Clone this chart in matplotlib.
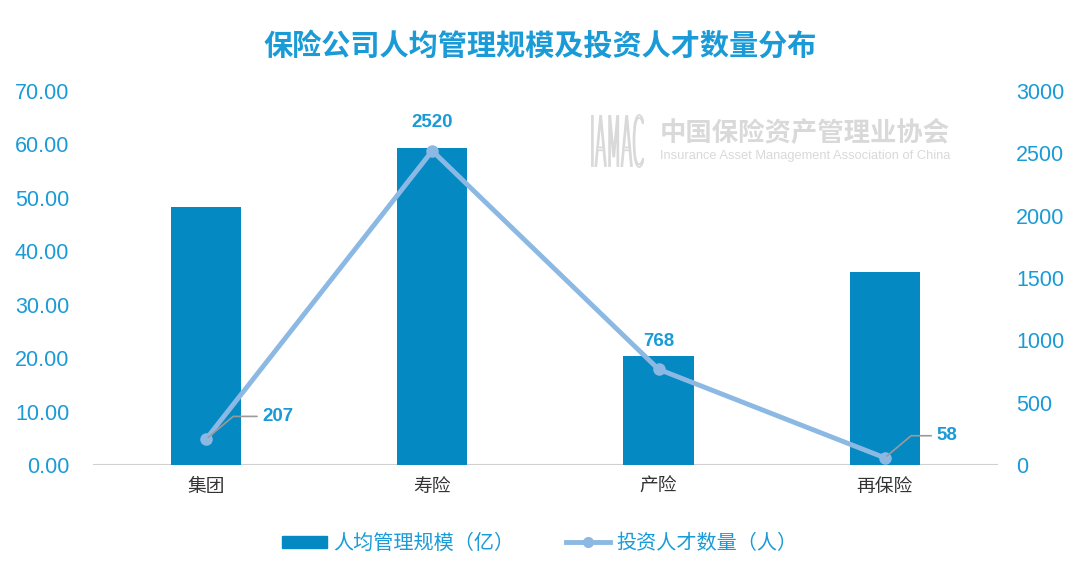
import matplotlib
matplotlib.use("Agg")
from matplotlib import pyplot as plt
from matplotlib.lines import Line2D
from matplotlib.patches import Patch, PathPatch
from matplotlib.textpath import TextPath
from matplotlib.font_manager import FontProperties
from matplotlib.transforms import Affine2D

plt.rcParams["font.family"] = ["Liberation Sans", "Noto Sans CJK SC", "DejaVu Sans"]

categories = ["集团", "寿险", "产险", "再保险"]
aum_per_person = [48.2, 59.3, 20.4, 36.2]   # 人均管理规模（亿）
talent_count = [207, 2520, 768, 58]         # 投资人才数量（人）
left_ticks = [0, 10, 20, 30, 40, 50, 60, 70]
right_ticks = [0, 500, 1000, 1500, 2000, 2500, 3000]

BLUE_TXT = "#1a9bd7"
BAR_C = "#0589c3"
LINE_C = "#8cb9e3"

fig = plt.figure(figsize=(10.8, 5.72), dpi=100)
ax = fig.add_axes([0.086, 0.187, 0.838, 0.654])
ax2 = ax.twinx()

x = list(range(len(categories)))
ax.bar(x, aum_per_person, width=0.31, color=BAR_C, zorder=2)
ax.set_xlim(-0.5, 3.5)
ax.set_ylim(0, 70)
ax.set_yticks(left_ticks)
ax.set_yticklabels([f"{t:.2f}" for t in left_ticks])
ax.set_xticks(x)
ax.set_xticklabels(categories, fontsize=13.5, color="#333333")

ax2.plot(x, talent_count, color=LINE_C, lw=3.5, marker="o", ms=8, zorder=3)
ax2.set_ylim(0, 3000)
ax2.set_yticks(right_ticks)

for a in (ax, ax2):
    for s in a.spines.values():
        s.set_visible(False)
    a.tick_params(length=0)
ax.tick_params(axis="y", labelsize=15.5, labelcolor=BLUE_TXT, pad=17)
ax2.tick_params(axis="y", labelsize=15.5, labelcolor=BLUE_TXT, pad=13)
ax.tick_params(axis="x", pad=10)
ax.axhline(0, color="#d0d0d0", lw=1.5, zorder=1)

# data labels
lbl = dict(color=BLUE_TXT, fontsize=13.5, fontweight="bold")
ax2.annotate(str(talent_count[0]), xy=(x[0], talent_count[0]), xytext=(x[0] + 0.25, 390),
             ha="left", va="center", arrowprops=dict(arrowstyle="-", color="#9a9a9a", lw=1.2,
                                                     connectionstyle="angle,angleA=0,angleB=40,rad=0"), **lbl)
ax2.annotate(str(talent_count[1]), xy=(x[1], talent_count[1]), xytext=(0, 14),
             textcoords="offset points", ha="center", va="bottom", **lbl)
ax2.annotate(str(talent_count[2]), xy=(x[2], talent_count[2]), xytext=(0, 14),
             textcoords="offset points", ha="center", va="bottom", **lbl)
ax2.annotate(str(talent_count[3]), xy=(x[3], talent_count[3]), xytext=(x[3] + 0.23, 235),
             ha="left", va="center", arrowprops=dict(arrowstyle="-", color="#9a9a9a", lw=1.2,
                                                     connectionstyle="angle,angleA=0,angleB=40,rad=0"), **lbl)

fig.text(0.5, 0.92, "保险公司人均管理规模及投资人才数量分布", ha="center", va="center",
         fontsize=21, fontweight="bold", color=BLUE_TXT)

# watermark
wm = "#d9d9d9"
tp = TextPath((0, 0), "IAMAC", size=10, prop=FontProperties(family="DejaVu Sans", weight="light"))
ext = tp.get_extents()
logo_tr = Affine2D().translate(-ext.x0, -ext.y0).scale(51 / ext.width, 52 / ext.height).translate(592, 405)
fig.patches.append(PathPatch(tp, transform=logo_tr, facecolor="none", edgecolor=wm, lw=1.3))
fig.text(0.611, 0.768, "中国保险资产管理业协会", fontsize=19, color=wm, ha="left", va="center",
         fontweight="bold")
fig.text(0.611, 0.728, "Insurance Asset Management Association of China", fontsize=9.3,
         color=wm, ha="left", va="center")

handles = [Patch(color=BAR_C, label="人均管理规模（亿）"),
           Line2D([], [], color=LINE_C, lw=3.5, marker="o", ms=7, label="投资人才数量（人）")]
leg = fig.legend(handles=handles, loc="center", bbox_to_anchor=(0.5, 0.05), ncol=2,
                 frameon=False, fontsize=14.5, handlelength=2.2, handleheight=0.6,
                 columnspacing=2.6, handletextpad=0.3)
for t in leg.get_texts():
    t.set_color(BLUE_TXT)

fig.savefig("out.png", dpi=100, facecolor="white")
